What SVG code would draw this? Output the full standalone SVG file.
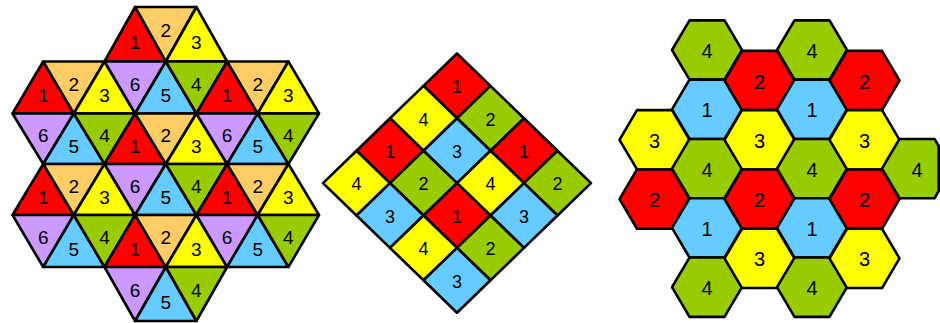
<svg xmlns="http://www.w3.org/2000/svg" xmlns:xlink="http://www.w3.org/1999/xlink" width="940" height="323" viewBox="0 0 940 323">
<style>
.s{stroke:#000;stroke-width:2.6;stroke-linejoin:round}
.r{fill:#FF0000}.o{fill:#FFCC66}.y{fill:#FFFF00}.p{fill:#CC99FF}.b{fill:#66CCFF}.g{fill:#99CC00}
text{font-family:"Liberation Sans",Arial,sans-serif;text-anchor:middle;fill:#000}
.tt text{font-size:19px}.td text{font-size:18px}.th text{font-size:20px}
</style>
<defs>
<polygon id="hx" points="-35,0 -17.5,-29.65 17.5,-29.65 35,0 17.5,29.65 -17.5,29.65" stroke="#000" stroke-width="2.6" stroke-linejoin="round"/>
</defs>
<rect width="940" height="323" fill="#fff"/>

<g id="triangles" class="tt">
<!-- row 0 -->
<g id="t0-1"><polygon class="s r" points="135.1,7 104.5,61.5 165.8,61.5"/><text x="135.1" y="49.2">1</text></g>
<g id="t0-2"><polygon class="s o" points="135.1,7 196.4,7 165.8,61.5"/><text x="165.8" y="37.2">2</text></g>
<g id="t0-3"><polygon class="s y" points="196.4,7 165.8,61.5 227.1,61.5"/><text x="196.4" y="49.2">3</text></g>
<!-- row 1 -->
<g id="t1-1"><polygon class="s r" points="43.2,61.5 12.5,113.5 73.8,113.5"/><text x="43.2" y="102.1">1</text></g>
<g id="t1-2"><polygon class="s o" points="43.2,61.5 104.5,61.5 73.8,113.5"/><text x="73.8" y="90.7">2</text></g>
<g id="t1-3"><polygon class="s y" points="104.5,61.5 73.8,113.5 135.1,113.5"/><text x="104.5" y="102.1">3</text></g>
<g id="t1-4"><polygon class="s p" points="104.5,61.5 165.8,61.5 135.1,113.5"/><text x="135.1" y="90.7">6</text></g>
<g id="t1-5"><polygon class="s b" points="165.8,61.5 135.1,113.5 196.4,113.5"/><text x="165.8" y="102.1">5</text></g>
<g id="t1-6"><polygon class="s g" points="165.8,61.5 227.1,61.5 196.4,113.5"/><text x="196.4" y="90.7">4</text></g>
<g id="t1-7"><polygon class="s r" points="227.1,61.5 196.4,113.5 257.7,113.5"/><text x="227.1" y="102.1">1</text></g>
<g id="t1-8"><polygon class="s o" points="227.1,61.5 288.4,61.5 257.7,113.5"/><text x="257.7" y="90.7">2</text></g>
<g id="t1-9"><polygon class="s y" points="288.4,61.5 257.7,113.5 319,113.5"/><text x="288.4" y="102.1">3</text></g>
<!-- row 2 -->
<g id="t2-1"><polygon class="s p" points="12.5,113.5 73.8,113.5 43.2,164"/><text x="43.2" y="142">6</text></g>
<g id="t2-2"><polygon class="s b" points="73.8,113.5 43.2,164 104.5,164"/><text x="73.8" y="153.1">5</text></g>
<g id="t2-3"><polygon class="s g" points="73.8,113.5 135.1,113.5 104.5,164"/><text x="104.5" y="142">4</text></g>
<g id="t2-4"><polygon class="s r" points="135.1,113.5 104.5,164 165.8,164"/><text x="135.1" y="153.1">1</text></g>
<g id="t2-5"><polygon class="s o" points="135.1,113.5 196.4,113.5 165.8,164"/><text x="165.8" y="142">2</text></g>
<g id="t2-6"><polygon class="s y" points="196.4,113.5 165.8,164 227.1,164"/><text x="196.4" y="153.1">3</text></g>
<g id="t2-7"><polygon class="s p" points="196.4,113.5 257.7,113.5 227.1,164"/><text x="227.1" y="142">6</text></g>
<g id="t2-8"><polygon class="s b" points="257.7,113.5 227.1,164 288.4,164"/><text x="257.7" y="153.1">5</text></g>
<g id="t2-9"><polygon class="s g" points="257.7,113.5 319,113.5 288.4,164"/><text x="288.4" y="142">4</text></g>
<!-- row 3 -->
<g id="t3-1"><polygon class="s r" points="43.2,164 12.5,215 73.8,215"/><text x="43.2" y="204">1</text></g>
<g id="t3-2"><polygon class="s o" points="43.2,164 104.5,164 73.8,215"/><text x="73.8" y="192.7">2</text></g>
<g id="t3-3"><polygon class="s y" points="104.5,164 73.8,215 135.1,215"/><text x="104.5" y="204">3</text></g>
<g id="t3-4"><polygon class="s p" points="104.5,164 165.8,164 135.1,215"/><text x="135.1" y="192.7">6</text></g>
<g id="t3-5"><polygon class="s b" points="165.8,164 135.1,215 196.4,215"/><text x="165.8" y="204">5</text></g>
<g id="t3-6"><polygon class="s g" points="165.8,164 227.1,164 196.4,215"/><text x="196.4" y="192.7">4</text></g>
<g id="t3-7"><polygon class="s r" points="227.1,164 196.4,215 257.7,215"/><text x="227.1" y="204">1</text></g>
<g id="t3-8"><polygon class="s o" points="227.1,164 288.4,164 257.7,215"/><text x="257.7" y="192.7">2</text></g>
<g id="t3-9"><polygon class="s y" points="288.4,164 257.7,215 319,215"/><text x="288.4" y="204">3</text></g>
<!-- row 4 -->
<g id="t4-1"><polygon class="s p" points="12.5,215 73.8,215 43.2,267"/><text x="43.2" y="244.2">6</text></g>
<g id="t4-2"><polygon class="s b" points="73.8,215 43.2,267 104.5,267"/><text x="73.8" y="255.6">5</text></g>
<g id="t4-3"><polygon class="s g" points="73.8,215 135.1,215 104.5,267"/><text x="104.5" y="244.2">4</text></g>
<g id="t4-4"><polygon class="s r" points="135.1,215 104.5,267 165.8,267"/><text x="135.1" y="255.6">1</text></g>
<g id="t4-5"><polygon class="s o" points="135.1,215 196.4,215 165.8,267"/><text x="165.8" y="244.2">2</text></g>
<g id="t4-6"><polygon class="s y" points="196.4,215 165.8,267 227.1,267"/><text x="196.4" y="255.6">3</text></g>
<g id="t4-7"><polygon class="s p" points="196.4,215 257.7,215 227.1,267"/><text x="227.1" y="244.2">6</text></g>
<g id="t4-8"><polygon class="s b" points="257.7,215 227.1,267 288.4,267"/><text x="257.7" y="255.6">5</text></g>
<g id="t4-9"><polygon class="s g" points="257.7,215 319,215 288.4,267"/><text x="288.4" y="244.2">4</text></g>
<!-- row 5 -->
<g id="t5-1"><polygon class="s p" points="104.5,267 165.8,267 135.1,321"/><text x="135.1" y="297">6</text></g>
<g id="t5-2"><polygon class="s b" points="165.8,267 135.1,321 196.4,321"/><text x="165.8" y="308.9">5</text></g>
<g id="t5-3"><polygon class="s g" points="165.8,267 227.1,267 196.4,321"/><text x="196.4" y="297">4</text></g>
</g>

<g id="squares" class="td">
<g id="q00"><polygon class="s r" points="457,53.5 490.5,85.9 457,118.3 423.5,85.9"/><text x="457" y="93.2">1</text></g>
<g id="q10"><polygon class="s g" points="490.5,85.9 524,118.3 490.5,150.7 457,118.3"/><text x="490.5" y="125.6">2</text></g>
<g id="q01"><polygon class="s y" points="423.5,85.9 457,118.3 423.5,150.7 390,118.3"/><text x="423.5" y="125.6">4</text></g>
<g id="q20"><polygon class="s r" points="524,118.3 557.5,150.7 524,183.1 490.5,150.7"/><text x="524" y="158">1</text></g>
<g id="q11"><polygon class="s b" points="457,118.3 490.5,150.7 457,183.1 423.5,150.7"/><text x="457" y="158">3</text></g>
<g id="q02"><polygon class="s r" points="390,118.3 423.5,150.7 390,183.1 356.5,150.7"/><text x="390" y="158">1</text></g>
<g id="q30"><polygon class="s g" points="557.5,150.7 591,183.1 557.5,215.5 524,183.1"/><text x="557.5" y="190.4">2</text></g>
<g id="q21"><polygon class="s y" points="490.5,150.7 524,183.1 490.5,215.5 457,183.1"/><text x="490.5" y="190.4">4</text></g>
<g id="q12"><polygon class="s g" points="423.5,150.7 457,183.1 423.5,215.5 390,183.1"/><text x="423.5" y="190.4">2</text></g>
<g id="q03"><polygon class="s y" points="356.5,150.7 390,183.1 356.5,215.5 323,183.1"/><text x="356.5" y="190.4">4</text></g>
<g id="q31"><polygon class="s b" points="524,183.1 557.5,215.5 524,247.9 490.5,215.5"/><text x="524" y="222.8">3</text></g>
<g id="q22"><polygon class="s r" points="457,183.1 490.5,215.5 457,247.9 423.5,215.5"/><text x="457" y="222.8">1</text></g>
<g id="q13"><polygon class="s b" points="390,183.1 423.5,215.5 390,247.9 356.5,215.5"/><text x="390" y="222.8">3</text></g>
<g id="q32"><polygon class="s g" points="490.5,215.5 524,247.9 490.5,280.3 457,247.9"/><text x="490.5" y="255.2">2</text></g>
<g id="q23"><polygon class="s y" points="423.5,215.5 457,247.9 423.5,280.3 390,247.9"/><text x="423.5" y="255.2">4</text></g>
<g id="q33"><polygon class="s b" points="457,247.9 490.5,280.3 457,312.7 423.5,280.3"/><text x="457" y="287.6">3</text></g>
</g>

<g id="hexagons" class="th">
<g id="h-1-1"><use href="#hx" class="y" transform="translate(654.5,139.8)"/><text x="654.5" y="147.8">3</text></g>
<g id="h-1-2"><use href="#hx" class="r" transform="translate(654.5,199.1)"/><text x="654.5" y="207.1">2</text></g>
<g id="h0-0"><use href="#hx" class="g" transform="translate(707,50)"/><text x="707" y="58">4</text></g>
<g id="h0-1"><use href="#hx" class="b" transform="translate(707,109.3)"/><text x="707" y="117.3">1</text></g>
<g id="h0-2"><use href="#hx" class="g" transform="translate(707,168.6)"/><text x="707" y="176.6">4</text></g>
<g id="h0-3"><use href="#hx" class="b" transform="translate(707,227.9)"/><text x="707" y="235.9">1</text></g>
<g id="h0-4"><use href="#hx" class="g" transform="translate(707,287.2)"/><text x="707" y="295.2">4</text></g>
<g id="h1-0"><use href="#hx" class="r" transform="translate(759.5,80.5)"/><text x="759.5" y="88.5">2</text></g>
<g id="h1-1"><use href="#hx" class="y" transform="translate(759.5,139.8)"/><text x="759.5" y="147.8">3</text></g>
<g id="h1-2"><use href="#hx" class="r" transform="translate(759.5,199.1)"/><text x="759.5" y="207.1">2</text></g>
<g id="h1-3"><use href="#hx" class="y" transform="translate(759.5,258.4)"/><text x="759.5" y="266.4">3</text></g>
<g id="h2-0"><use href="#hx" class="g" transform="translate(812,50)"/><text x="812" y="58">4</text></g>
<g id="h2-1"><use href="#hx" class="b" transform="translate(812,109.3)"/><text x="812" y="117.3">1</text></g>
<g id="h2-2"><use href="#hx" class="g" transform="translate(812,168.6)"/><text x="812" y="176.6">4</text></g>
<g id="h2-3"><use href="#hx" class="b" transform="translate(812,227.9)"/><text x="812" y="235.9">1</text></g>
<g id="h2-4"><use href="#hx" class="g" transform="translate(812,287.2)"/><text x="812" y="295.2">4</text></g>
<g id="h3-0"><use href="#hx" class="r" transform="translate(864.5,80.5)"/><text x="864.5" y="88.5">2</text></g>
<g id="h3-1"><use href="#hx" class="y" transform="translate(864.5,139.8)"/><text x="864.5" y="147.8">3</text></g>
<g id="h3-2"><use href="#hx" class="r" transform="translate(864.5,199.1)"/><text x="864.5" y="207.1">2</text></g>
<g id="h3-3"><use href="#hx" class="y" transform="translate(864.5,258.4)"/><text x="864.5" y="266.4">3</text></g>
<g id="h4-2"><polygon class="s g" points="882,168.6 899.5,138.95 934.5,138.95 938.7,146 938.7,191 934.5,198.25 899.5,198.25"/><text x="917" y="176.6">4</text></g>
</g>
</svg>
